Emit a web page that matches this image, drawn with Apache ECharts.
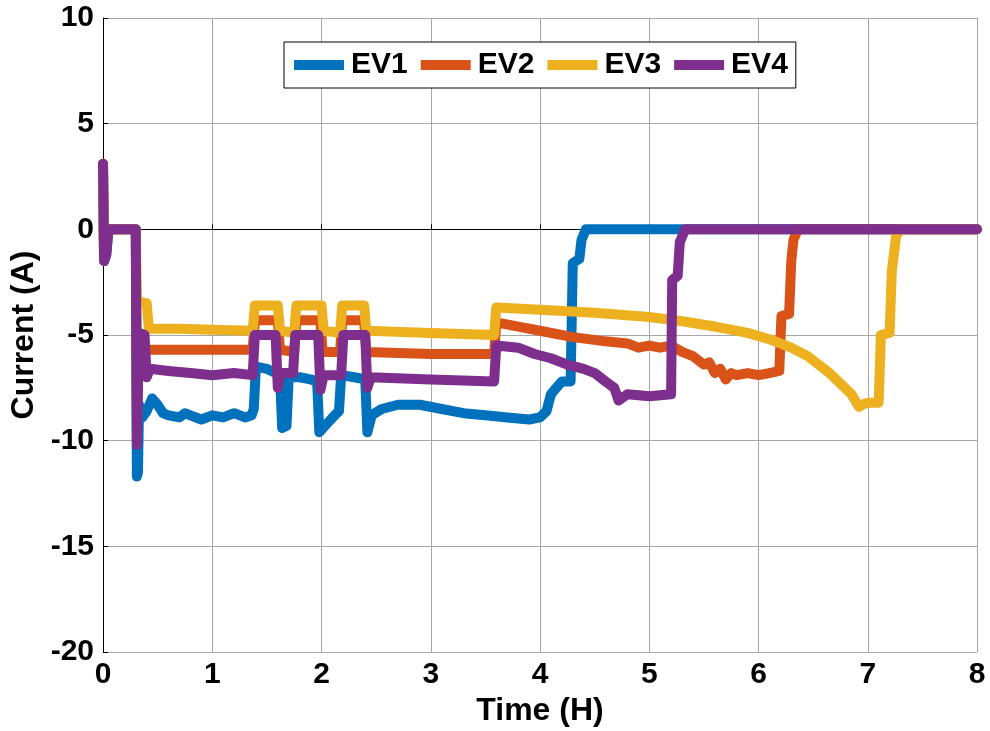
<!DOCTYPE html>
<html><head><meta charset="utf-8">
<script src="https://cdn.jsdelivr.net/npm/echarts@6/dist/echarts.min.js"></script>
<style>html,body{margin:0;padding:0;background:#fff}#c{width:990px;height:731px}</style>
</head><body><div id="c"></div>
<script>
const seriesNames = ['EV1','EV2','EV3','EV4'];
const xTicks = [0,1,2,3,4,5,6,7,8];
const yTicks = [-20,-15,-10,-5,0,5,10];
const ev1 = [[0,3.1],[0.01,-1.5],[0.03,-1.2],[0.05,0],[0.3,0],[0.31,-11.7],[0.32,-11.5],[0.33,-8.3],[0.36,-8.9],[0.4,-8.6],[0.45,-8.0],[0.5,-8.3],[0.55,-8.7],[0.6,-8.8],[0.7,-8.9],[0.75,-8.7],[0.8,-8.8],[0.9,-9.0],[1.0,-8.8],[1.1,-8.9],[1.2,-8.7],[1.3,-8.9],[1.36,-8.8],[1.38,-8.5],[1.4,-6.5],[1.5,-6.6],[1.58,-6.8],[1.62,-6.9],[1.64,-9.4],[1.68,-9.3],[1.7,-7.0],[1.8,-7.0],[1.9,-7.1],[1.96,-7.2],[1.98,-9.6],[2.05,-9.2],[2.12,-8.8],[2.16,-8.6],[2.18,-6.9],[2.3,-7.0],[2.4,-7.1],[2.42,-9.6],[2.46,-8.8],[2.55,-8.5],[2.7,-8.3],[2.9,-8.3],[3.1,-8.5],[3.3,-8.7],[3.5,-8.8],[3.7,-8.9],[3.9,-9.0],[4.0,-8.9],[4.06,-8.6],[4.1,-7.8],[4.15,-7.5],[4.2,-7.2],[4.28,-7.2],[4.3,-1.6],[4.36,-1.4],[4.38,-0.5],[4.42,0],[8,0]];
const ev2 = [[0,3.1],[0.01,-1.5],[0.05,0],[0.3,0],[0.31,-8.5],[0.33,-5.7],[0.6,-5.7],[1.0,-5.7],[1.37,-5.7],[1.39,-4.3],[1.6,-4.3],[1.62,-5.7],[1.75,-5.8],[1.77,-4.3],[1.99,-4.3],[2.01,-5.8],[2.17,-5.8],[2.19,-4.3],[2.39,-4.3],[2.41,-5.8],[3.0,-5.9],[3.58,-5.9],[3.6,-4.4],[3.8,-4.6],[4.0,-4.8],[4.3,-5.1],[4.6,-5.3],[4.8,-5.4],[4.9,-5.6],[5.0,-5.5],[5.1,-5.6],[5.2,-5.5],[5.3,-5.8],[5.4,-6.0],[5.5,-6.4],[5.55,-6.3],[5.6,-6.8],[5.65,-6.6],[5.7,-7.1],[5.75,-6.8],[5.8,-6.9],[5.9,-6.8],[6.0,-6.9],[6.1,-6.8],[6.19,-6.7],[6.21,-4.1],[6.28,-4.0],[6.3,-1.5],[6.32,-0.5],[6.36,0],[8,0]];
const ev3 = [[0,3.1],[0.01,-1.5],[0.05,0],[0.3,0],[0.31,-3.4],[0.4,-3.5],[0.42,-4.7],[0.7,-4.7],[1.0,-4.75],[1.37,-4.8],[1.39,-3.6],[1.6,-3.6],[1.62,-4.8],[1.75,-4.9],[1.77,-3.6],[2.0,-3.6],[2.02,-4.8],[2.17,-4.9],[2.19,-3.6],[2.39,-3.6],[2.41,-4.8],[3.0,-4.9],[3.58,-5.0],[3.6,-3.7],[4.0,-3.8],[4.5,-3.95],[5.0,-4.15],[5.3,-4.35],[5.6,-4.6],[5.9,-4.9],[6.1,-5.2],[6.3,-5.6],[6.45,-6.0],[6.55,-6.4],[6.65,-6.8],[6.75,-7.3],[6.85,-7.8],[6.92,-8.4],[6.95,-8.3],[7.0,-8.2],[7.1,-8.2],[7.12,-5.0],[7.2,-4.9],[7.22,-2.0],[7.26,-0.3],[7.3,0],[8,0]];
const ev4 = [[0,3.1],[0.01,-1.5],[0.03,-1.2],[0.05,0],[0.3,0],[0.31,-10.2],[0.33,-4.9],[0.38,-5.0],[0.4,-7.0],[0.43,-6.6],[0.6,-6.7],[0.8,-6.8],[1.0,-6.9],[1.2,-6.8],[1.37,-6.9],[1.39,-5.0],[1.58,-5.0],[1.6,-7.5],[1.63,-6.8],[1.74,-6.8],[1.76,-5.0],[1.97,-5.0],[1.99,-7.6],[2.02,-6.9],[2.18,-6.9],[2.2,-5.0],[2.4,-5.0],[2.42,-7.5],[2.45,-7.0],[3.0,-7.1],[3.58,-7.2],[3.6,-5.5],[3.8,-5.6],[3.95,-5.9],[4.1,-6.1],[4.25,-6.4],[4.4,-6.6],[4.5,-6.8],[4.6,-7.2],[4.68,-7.5],[4.72,-8.1],[4.8,-7.8],[5.0,-7.9],[5.2,-7.8],[5.21,-2.4],[5.26,-2.2],[5.28,-0.6],[5.33,0],[8,0]];
const colors = ['#0072BD','#D95319','#EDB120','#7E2F8E'];
const allData = [ev1, ev2, ev3, ev4];

const FONT = '"Liberation Sans", Arial, sans-serif';
const chart = echarts.init(document.getElementById('c'));
chart.setOption({
  animation: false,
  color: colors,
  grid: {left: 103, right: 13, top: 18, bottom: 79, containLabel: false, outerBoundsMode: 'none'},
  legend: {
    data: seriesNames,
    left: 284, top: 42,
    icon: 'rect', itemWidth: 50, itemHeight: 10, itemGap: 13,
    padding: [8, 8, 8, 10],
    borderColor: '#000', borderWidth: 1,
    backgroundColor: '#fff',
    textStyle: {fontFamily: FONT, fontWeight: 'bold', fontSize: 30, color: '#000', padding: [0,0,0,2]}
  },
  xAxis: {
    type: 'value', min: xTicks[0], max: xTicks[xTicks.length-1], interval: 1,
    name: 'Time (H)', nameLocation: 'middle', nameGap: 43,
    nameTextStyle: {fontFamily: FONT, fontWeight: 'bold', fontSize: 32, color: '#000'},
    axisLine: {lineStyle: {color: '#000', width: 1}},
    axisTick: {inside: true, length: 5, lineStyle: {color: '#000'}},
    axisLabel: {fontFamily: FONT, fontWeight: 'bold', fontSize: 30, color: '#000', margin: 8},
    splitLine: {show: true, lineStyle: {color: '#a8a8a8', width: 1}}
  },
  yAxis: {
    type: 'value', min: yTicks[0], max: yTicks[yTicks.length-1], interval: 5,
    name: 'Current (A)', nameLocation: 'middle', nameGap: 59, nameRotate: 90,
    nameTextStyle: {fontFamily: FONT, fontWeight: 'bold', fontSize: 32, color: '#000'},
    axisLine: {show: true, lineStyle: {color: '#000', width: 1}},
    axisTick: {show: true, inside: true, length: 5, lineStyle: {color: '#000'}},
    axisLabel: {fontFamily: FONT, fontWeight: 'bold', fontSize: 30, color: '#000', margin: 9},
    splitLine: {show: true, lineStyle: {color: '#a8a8a8', width: 1}}
  },
  series: seriesNames.map((n, i) => ({
    name: n, type: 'line', data: allData[i], showSymbol: false, symbol: 'none',
    lineStyle: {width: 10, color: colors[i], join: 'round', cap: 'round'},
    z: 2 + i
  }))
});
</script></body></html>
